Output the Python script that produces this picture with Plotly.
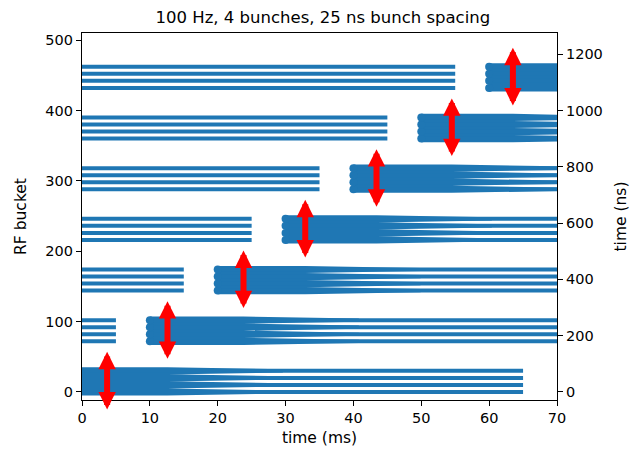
import plotly.graph_objects as go

# ---- data ----
inject_ms = [0, 10, 20, 30, 40, 50, 60]              # injection time of each batch
kick_ms = [3.7, 12.6, 23.8, 32.9, 43.4, 54.5, 63.5]  # kicker firing time per batch
group_bucket = [0, 72, 144, 216, 288, 360, 432]      # first RF bucket of each batch
bunch_offset = [0, 10, 20, 30]                       # 4 bunches, 25 ns = 10 buckets apart
store_ms = 65                                        # storage time of each batch
cycle_ms = 70                                        # cycle length (wrap-around)
kick_half_span = 42                                  # arrow half length (buckets)
ns_per_bucket = 2.5
x_ticks = [0, 10, 20, 30, 40, 50, 60, 70]
y_ticks = [0, 100, 200, 300, 400, 500]
y2_ticks = [0, 200, 400, 600, 800, 1000, 1200]

# ---- style ----
BLUE = "#1f77b4"
THIN_W = 4.0          # px
THICK_W = 7.2         # px
TAPER_MS = 17.0
YMIN, YMAX = -11.4, 510
PLOT_H = 449 - 33 - 49
PX_PER_BUCKET = PLOT_H / (YMAX - YMIN)
h_thick = THICK_W / 2 / PX_PER_BUCKET
h_thin = 0.8 * THIN_W / 2 / PX_PER_BUCKET   # wedge tip hides inside the thin line

thin_x, thin_y = [], []
band_x, band_y = [], []
start_x, start_y = [], []

n = len(inject_ms)
for k in range(n):
    start = inject_ms[k]
    end = start + store_ms
    main_end = min(end, cycle_ms)
    wrap_end = end - cycle_ms if end > cycle_ms else None
    thick_end = min(kick_ms[k + 1] if k + 1 < n else main_end, main_end)
    taper_end = min(thick_end + TAPER_MS, main_end)
    frac = (taper_end - thick_end) / TAPER_MS
    h_end = h_thick + (h_thin - h_thick) * frac
    for off in bunch_offset:
        y = group_bucket[k] + off
        thin_x += [start, main_end, None]
        thin_y += [y, y, None]
        if wrap_end is not None:
            thin_x += [0, wrap_end, None]
            thin_y += [y, y, None]
        band_x += [start, thick_end, taper_end, taper_end, thick_end, start, start, None]
        band_y += [y + h_thick, y + h_thick, y + h_end, y - h_end, y - h_thick, y - h_thick,
                   y + h_thick, None]
        if start > 0:
            start_x.append(start)
            start_y.append(y)

fig = go.Figure()
fig.add_trace(go.Scatter(x=band_x, y=band_y, mode="lines", fill="toself", fillcolor=BLUE,
                         line=dict(color=BLUE, width=0), hoverinfo="skip", showlegend=False))
fig.add_trace(go.Scatter(x=thin_x, y=thin_y, mode="lines",
                         line=dict(color=BLUE, width=THIN_W), hoverinfo="skip", showlegend=False))
fig.add_trace(go.Scatter(x=start_x, y=start_y, mode="markers",
                         marker=dict(color=BLUE, size=THICK_W + 0.8, line=dict(width=0)),
                         hoverinfo="skip", showlegend=False))
# invisible trace so the right axis is drawn
fig.add_trace(go.Scatter(x=[0], y=[0], yaxis="y2", mode="markers",
                         marker=dict(opacity=0), hoverinfo="skip", showlegend=False))

# kicker arrows
for k in range(n):
    c = group_bucket[k] + (bunch_offset[0] + bunch_offset[-1]) / 2
    fig.add_annotation(x=kick_ms[k], y=c + kick_half_span, ax=kick_ms[k], ay=c - kick_half_span,
                       xref="x", yref="y", axref="x", ayref="y", text="",
                       showarrow=True, arrowside="end+start", arrowhead=2, startarrowhead=2,
                       arrowsize=0.58, startarrowsize=0.58, arrowwidth=6, arrowcolor="#ff0000")

TICK_FS = 14.5
LABEL_FS = 15.5
axis_common = dict(showline=True, linecolor="#000000", linewidth=1.1, ticks="outside",
                   ticklen=5, tickwidth=1.1, tickcolor="#000000", showgrid=False,
                   zeroline=False, automargin=False,
                   tickfont=dict(family="DejaVu Sans", size=TICK_FS, color="#000000"))
fig.update_layout(
    width=630, height=449,
    margin=dict(l=82, r=73, t=33, b=49),
    paper_bgcolor="white", plot_bgcolor="white",
    font=dict(family="DejaVu Sans", size=TICK_FS, color="#000000"),
    title=dict(text="100 Hz, 4 bunches, 25 ns bunch spacing", x=(82 + 557) / 2 / 630,
               xanchor="center", xref="paper", y=1 - 17 / 449, yanchor="middle",
               font=dict(family="DejaVu Sans", size=16.5, color="#000000")),
    xaxis=dict(range=[0, 70], tickvals=x_ticks, mirror=True,
               title=dict(text="time (ms)", standoff=6,
                          font=dict(family="DejaVu Sans", size=LABEL_FS, color="#000000")),
               **axis_common),
    yaxis=dict(range=[YMIN, YMAX], tickvals=y_ticks,
               title=dict(text="RF bucket", standoff=14,
                          font=dict(family="DejaVu Sans", size=LABEL_FS, color="#000000")),
               **axis_common),
    yaxis2=dict(range=[YMIN * ns_per_bucket, YMAX * ns_per_bucket], tickvals=y2_ticks,
                overlaying="y", side="right", anchor="x",
                title=dict(text="time (ns)", standoff=16,
                           font=dict(family="DejaVu Sans", size=LABEL_FS, color="#000000")),
                **axis_common),
)

fig.write_html("out.html")
